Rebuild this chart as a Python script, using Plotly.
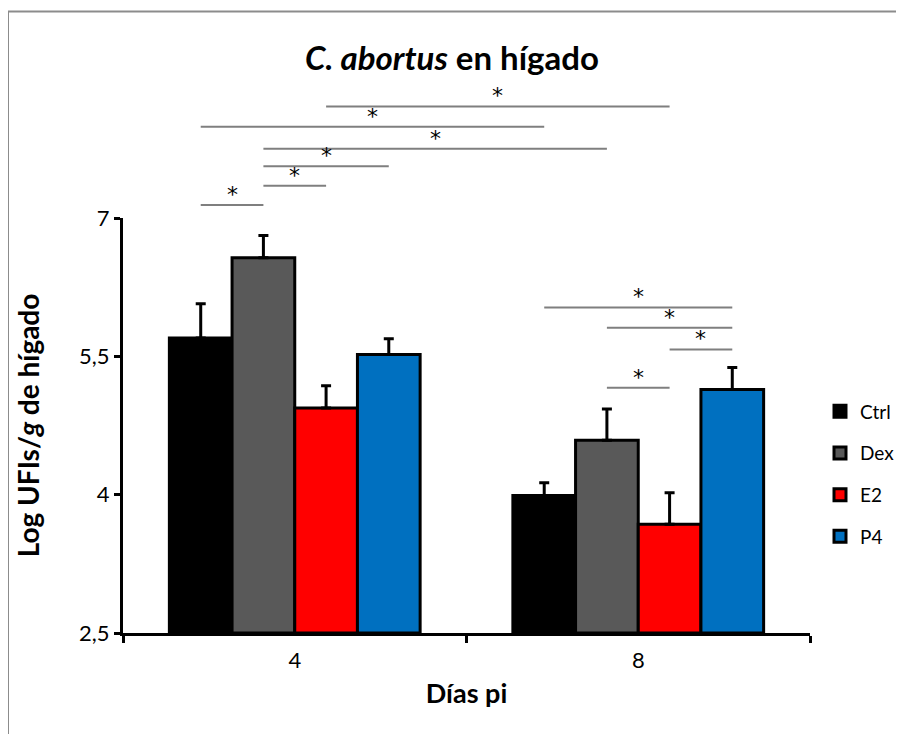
import plotly.graph_objects as go

# ---- data ----
days = ["4", "8"]
groups = ["Ctrl", "Dex", "E2", "P4"]
colors = ["#000000", "#595959", "#FF0000", "#0070C0"]
ctrl = [5.70, 3.99]
dex = [6.57, 4.59]
e2 = [4.94, 3.68]
p4 = [5.52, 5.14]
ctrl_err = [0.37, 0.14]
dex_err = [0.24, 0.34]
e2_err = [0.24, 0.34]
p4_err = [0.17, 0.24]
means = [ctrl, dex, e2, p4]
errs = [ctrl_err, dex_err, e2_err, p4_err]

# significance brackets: (day a, group a, day b, group b, level)
brackets = [
    ("4", "E2", "8", "E2", 8.21),
    ("4", "Ctrl", "8", "Ctrl", 7.99),
    ("4", "Dex", "8", "Dex", 7.75),
    ("4", "Dex", "4", "P4", 7.56),
    ("4", "Dex", "4", "E2", 7.35),
    ("4", "Ctrl", "4", "Dex", 7.14),
    ("8", "Ctrl", "8", "P4", 6.03),
    ("8", "Dex", "8", "P4", 5.81),
    ("8", "E2", "8", "P4", 5.575),
    ("8", "Dex", "8", "E2", 5.16),
]

y_min, y_max = 2.5, 7.0
bargap = 0.27
FONT = "Lato"

fig = go.Figure()
for g, c, m, e in zip(groups, colors, means, errs):
    fig.add_trace(go.Bar(
        name=g, x=days, y=[v - y_min for v in m], base=y_min,
        marker=dict(color=c, line=dict(color="black", width=3)),
        error_y=dict(type="data", array=e, arrayminus=[0] * len(e), symmetric=False,
                     color="black", thickness=3, width=5),
        legendgroup=g,
    ))

# bracket geometry from the category scale
w = (1 - bargap) / len(groups)


def xpos(day, grp):
    xi = days.index(day) + (groups.index(grp) - (len(groups) - 1) / 2) * w
    return (xi + 0.5) / len(days)


def ypos(v):
    return (v - y_min) / (y_max - y_min)


shapes = []
annotations = []
for da, ga, db, gb, lv in brackets:
    x0, x1 = xpos(da, ga), xpos(db, gb)
    yy = ypos(lv)
    shapes.append(dict(type="line", xref="paper", yref="paper", x0=x0, x1=x1, y0=yy, y1=yy,
                       line=dict(color="#7f7f7f", width=2)))
    annotations.append(dict(text="*", xref="paper", yref="paper", x=(x0 + x1) / 2, y=yy,
                            xanchor="center", yanchor="bottom", yshift=-4, showarrow=False,
                            font=dict(family="DejaVu Sans", size=22, color="black")))

# layout in screen pixels (page has an 8px body margin)
OFF = 8
FW, FH = 896, 726
L_s, T_s, PW, PH = 123, 218.3, 687, 414.7
L, T = L_s - OFF, T_s - OFF


def px(xs):
    return (xs - L_s) / PW


def py(ys):
    return (T_s + PH - ys) / PH


shapes.append(dict(type="rect", xref="paper", yref="paper", x0=px(8), x1=px(897), y0=py(745), y1=py(12),
                   line=dict(color="#8c8c8c", width=2), layer="below"))

fig.update_layout(
    width=FW, height=FH,
    margin=dict(l=L, r=FW - L - PW, t=T, b=FH - T - PH, autoexpand=False),
    paper_bgcolor="white", plot_bgcolor="white",
    barmode="group", bargap=bargap, bargroupgap=0,
    font=dict(family=FONT, color="black"),
    title=dict(text="<i>C. abortus</i> en hígado", x=(452 - OFF) / FW, xanchor="center",
               y=1 - (58 - OFF) / FH, yanchor="middle",
               font=dict(family=FONT, size=33, color="black", weight="bold")),
    xaxis=dict(type="category", range=[-0.5, 1.5], showline=True, linecolor="black", linewidth=3,
               ticks="outside", tickson="boundaries", ticklen=7, tickwidth=3, tickcolor="black",
               tickfont=dict(size=22, family=FONT), showgrid=False, automargin=False,
               ticklabelstandoff=6,
               title=dict(text="<b>Días pi</b>", font=dict(size=27, family=FONT), standoff=12)),
    yaxis=dict(range=[y_min, y_max], showline=True, linecolor="black", linewidth=3,
               ticks="outside", ticklen=6, tickwidth=3, tickcolor="black",
               tickvals=[2.5, 4, 5.5, 7], ticktext=["2,5", "4", "5,5", "7"],
               tickfont=dict(size=22, family=FONT), showgrid=False, zeroline=False, automargin=False,
               title=dict(text="<b>Log UFIs/<i>g</i> de hígado</b>", font=dict(size=28, family=FONT),
                          standoff=32)),
    legend=dict(x=px(900), xanchor="right", y=py(474), yanchor="middle",
                font=dict(size=19, family=FONT), tracegroupgap=14, traceorder="grouped",
                bgcolor="rgba(0,0,0,0)", borderwidth=0),
    shapes=shapes, annotations=annotations,
)

fig.write_html("out.html")
